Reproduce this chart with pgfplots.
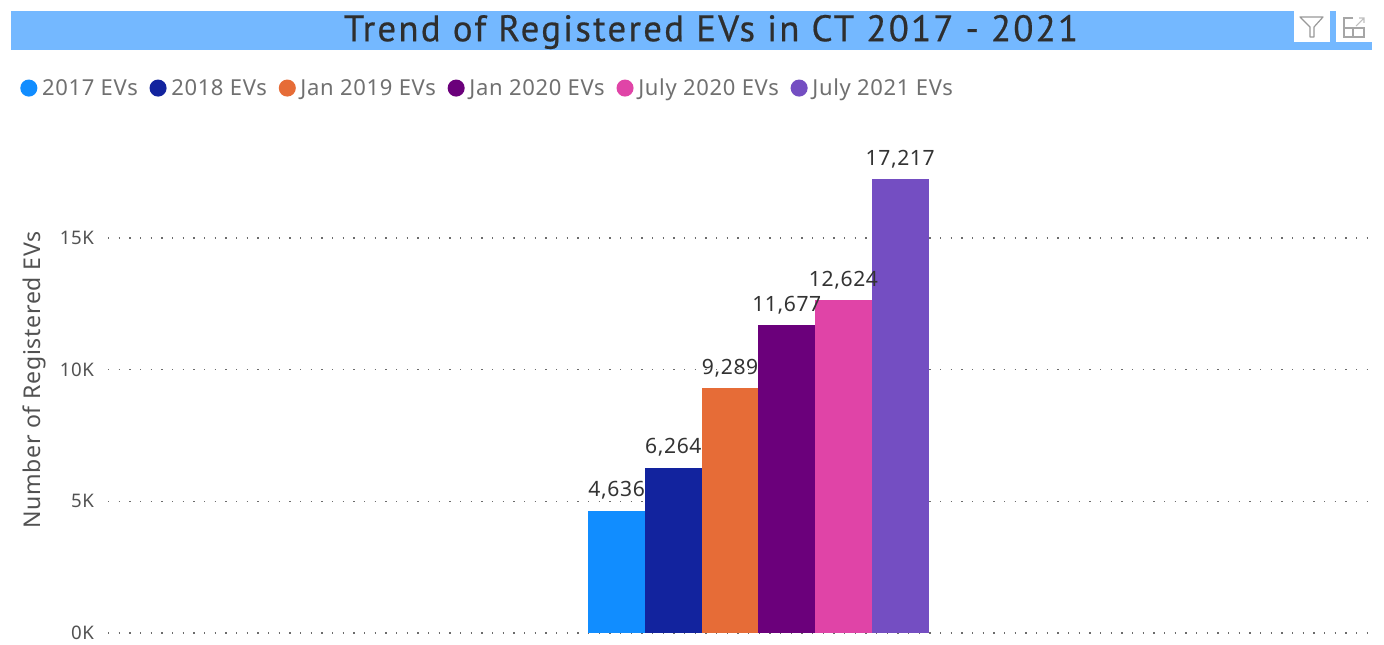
\documentclass[border=0pt]{standalone}
\usepackage{fontspec}
\setmainfont{Noto Sans}[LetterSpace=3]
\newfontfamily\titlefont{PT Sans}[LetterSpace=6,FakeBold=0.5]
\usepackage{pgfplots}
\pgfplotsset{compat=1.18}
\definecolor{band}{HTML}{74B8FF}
\definecolor{c17}{HTML}{118DFF}
\definecolor{c18}{HTML}{12239E}
\definecolor{c19}{HTML}{E66C37}
\definecolor{c20}{HTML}{6B007B}
\definecolor{c20b}{HTML}{E044A7}
\definecolor{c21}{HTML}{744EC2}
\definecolor{txt}{HTML}{707070}
\definecolor{dark}{HTML}{333333}
% 1 px of the reference = 0.75pt
\pgfplotsset{
  circ/.style={legend image code/.code={\fill[#1] (0.33em,0) circle (6.4pt);}},
}
\begin{document}
\begin{tikzpicture}
  \begin{scope}[x=0.75pt,y=-0.75pt,yshift=480pt]
  \path[use as bounding box,fill=white] (0,0) rectangle (1384,640);
  % title band
  \fill[band] (11,11) rectangle (1372,50);
  \node[font=\titlefont\fontsize{27.7}{30}\selectfont,text=dark!90!black] at (711,32) {Trend of Registered EVs in CT 2017 - 2021};
  % visual header icons
  \fill[white] (1294,11) rectangle (1330,42);
  \fill[white] (1336,11) rectangle (1372,42);
  \draw[gray!80,line width=0.9pt,line join=round] (1300,17) -- (1323,17) -- (1314,27) -- (1314,37) -- (1310,37) -- (1310,27) -- cycle;
  \draw[gray!70,line width=0.9pt] (1353,18) -- (1344,18) -- (1344,37) -- (1364,37) -- (1364,28) -- (1353,28) -- (1353,37) (1344,28) -- (1353,28);
  \draw[gray!50,line width=0.8pt] (1356,26) -- (1364,18) (1359,18) -- (1364,18) -- (1364,23);
  \end{scope}
  \begin{axis}[
    at={(81pt,5.25pt)},
    anchor=south west,
    scale only axis,
    width=948pt,
    height=355.7pt,
    xmin=-8.97, xmax=13.32,
    ymin=0, ymax=18000,
    clip=false,
    axis line style={draw=none},
    ybar,
    bar shift=0pt,
    bar width=42.6pt,
    xtick=\empty,
    ytick={0,5000,10000,15000},
    yticklabels={0K,5K,10K,15K},
    scaled y ticks=false,
    major tick length=0pt,
    tick label style={font=\fontsize{14}{15}\selectfont,text=dark!85},
    yticklabel style={xshift=-7pt},
    ymajorgrids,
    grid style={draw=gray!85!black,line width=1.1pt,dash pattern=on 1.1pt off 6.9pt},
    ylabel={Number of Registered EVs},
    every axis y label/.style={at={(rel axis cs:0,0.533)},xshift=-55pt,rotate=90,anchor=center,
      font=\fontsize{17.3}{19}\selectfont,text=dark!85},
    legend columns=6,
    legend style={
      at={(-0.0696,1.149)},anchor=west,draw=none,fill=none,inner sep=0pt,
      font=\fontsize{16.5}{18}\selectfont,text=txt,
      /tikz/every even column/.append style={column sep=6.8pt},
      /tikz/every odd column/.append style={column sep=1.5pt},
    },
    legend cell align=left,
  ]
    \addplot[fill=c17,draw=none,circ=c17] coordinates {(0,4636)};
    \addlegendentry{2017 EVs}
    \addplot[fill=c18,draw=none,circ=c18] coordinates {(1,6264)};
    \addlegendentry{2018 EVs}
    \addplot[fill=c19,draw=none,circ=c19] coordinates {(2,9289)};
    \addlegendentry{Jan 2019 EVs}
    \addplot[fill=c20,draw=none,circ=c20] coordinates {(3,11677)};
    \addlegendentry{Jan 2020 EVs}
    \addplot[fill=c20b,draw=none,circ=c20b] coordinates {(4,12624)};
    \addlegendentry{July 2020 EVs}
    \addplot[fill=c21,draw=none,circ=c21] coordinates {(5,17217)};
    \addlegendentry{July 2021 EVs}
    % value labels go last so that no bar covers them
    \addplot[draw=none,fill=none,forget plot,
      point meta=y,
      nodes near coords,
      nodes near coords align={vertical},
      every node near coord/.append style={
        font=\fontsize{15.8}{17}\selectfont,text=dark,yshift=5pt,
        /pgf/number format/fixed,
        /pgf/number format/precision=0,
        /pgf/number format/1000 sep={,},
        /pgf/number format/assume math mode=true,
      },
    ] coordinates {(0,4636) (1,6264) (2,9289) (3,11677) (4,12624) (5,17217)};
  \end{axis}
\end{tikzpicture}
\end{document}
